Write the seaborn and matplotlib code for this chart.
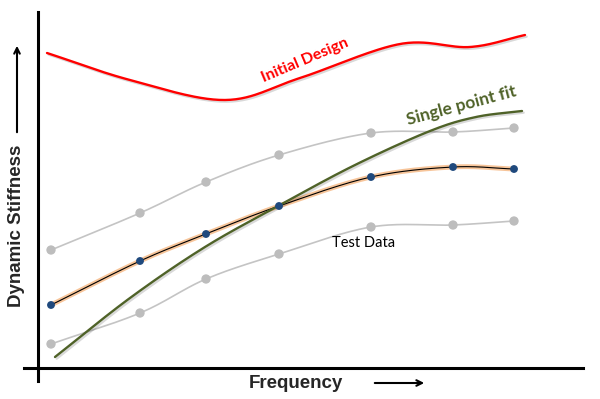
import numpy as np
import matplotlib
matplotlib.use("Agg")
import matplotlib.pyplot as plt
import matplotlib.patheffects as pe
import seaborn as sns

# Test data (frequency steps, stiffness in arbitrary units)
freq = [13, 102, 168, 241, 333, 415, 476]
test_mean = [63, 107, 134, 162, 191, 201, 199]
test_upper = [118, 155, 186, 213, 235, 236, 240]
test_lower = [24, 55, 89, 114, 141, 143, 147]

# Initial design curve
initial_x = [9, 92, 187, 262, 362, 432, 487]
initial_y = [315, 288, 268, 290, 324, 321, 333]

# Single point fit curve
fit_x = [17, 92, 167, 242, 317, 392, 438, 484]
fit_y = [11, 70, 121, 163, 203, 237, 251, 257]


def smooth(xs, ys, n=30):
    """Catmull-Rom path through the points (like Excel smoothed lines)."""
    pts = np.column_stack([xs, ys]).astype(float)
    p = np.vstack([2 * pts[0] - pts[1], pts, 2 * pts[-1] - pts[-2]])
    t = np.linspace(0, 1, n, endpoint=False)[:, None]
    out = []
    for i in range(1, len(p) - 2):
        p0, p1, p2, p3 = p[i - 1], p[i], p[i + 1], p[i + 2]
        seg = 0.5 * (2 * p1 + (-p0 + p2) * t
                     + (2 * p0 - 5 * p1 + 4 * p2 - p3) * t ** 2
                     + (-p0 + 3 * p1 - 3 * p2 + p3) * t ** 3)
        out.append(seg)
    out.append(pts[-1][None])
    s = np.vstack(out)
    return s[:, 0], s[:, 1]


shadow = [pe.SimpleLineShadow(offset=(1.2, -1.2), shadow_color="black", alpha=0.15), pe.Normal()]

sns.set_style("white")
fig = plt.figure(figsize=(6, 3.99), dpi=100)
ax = fig.add_axes([24 / 600, 18 / 399, 559 / 600, 369 / 399])

# grey envelope of test data
for ys in (test_upper, test_lower):
    sx, sy = smooth(freq, ys)
    sns.lineplot(x=sx, y=sy, sort=False, estimator=None, color="#c4c4c4", lw=1.2, ax=ax)
    sns.scatterplot(x=freq, y=ys, color="#bdbdbd", s=45, edgecolor="none", ax=ax, zorder=3)

# mean test data with orange glow
sx, sy = smooth(freq, test_mean)
sns.lineplot(x=sx, y=sy, sort=False, estimator=None, color="#f7c59a", lw=3.5, ax=ax)
sns.lineplot(x=sx, y=sy, sort=False, estimator=None, color="black", lw=0.8, ax=ax)
sns.scatterplot(x=freq, y=test_mean, color="#1f497d", s=32, edgecolor="none", ax=ax, zorder=4)

# initial design + single point fit
sx, sy = smooth(initial_x, initial_y)
sns.lineplot(x=sx, y=sy, sort=False, estimator=None, color="#ff0000", lw=1.7, ax=ax,
             path_effects=shadow)
sx, sy = smooth(fit_x, fit_y)
sns.lineplot(x=sx, y=sy, sort=False, estimator=None, color="#4f6228", lw=1.7, ax=ax,
             path_effects=shadow)

ax.text(267, 308, "Initial Design", color="#ff0000", fontsize=11.5, fontweight="bold",
        family="Lato", rotation=23, ha="center", va="center", rotation_mode="anchor")
ax.text(424, 262, "Single point fit", color="#4f6228", fontsize=12.5, fontweight="bold",
        family="Lato", rotation=15, ha="center", va="center", rotation_mode="anchor")
ax.text(326, 125, "Test Data", color="black", fontsize=10.5,
        family="Lato", ha="center", va="center")

# axes drawn as crossing lines
ax.set_xlim(-14, 545)
ax.set_ylim(-13, 356)
sns.despine(ax=ax)
for side in ("left", "bottom"):
    ax.spines[side].set_position(("data", 0))
    ax.spines[side].set_linewidth(2.2)
    ax.spines[side].set_color("black")
ax.set_xticks([])
ax.set_yticks([])

# axis titles with arrows
fig.text(17 / 600, 1 - 226 / 399, "Dynamic Stiffness", rotation=90, fontsize=13.5,
         fontweight="bold", family="Liberation Sans", ha="center", va="center")
fig.text(296 / 600, 1 - 383 / 399, "Frequency", fontsize=13.5,
         fontweight="bold", family="Liberation Sans", ha="center", va="center")
ax.annotate("", xy=(17, 399 - 43), xytext=(17, 399 - 135), xycoords="figure pixels",
            textcoords="figure pixels", arrowprops=dict(arrowstyle="->", lw=1.5, color="black"))
ax.annotate("", xy=(427, 399 - 383), xytext=(372, 399 - 383), xycoords="figure pixels",
            textcoords="figure pixels", arrowprops=dict(arrowstyle="->", lw=1.5, color="black"))

fig.savefig("out.png", dpi=100)
